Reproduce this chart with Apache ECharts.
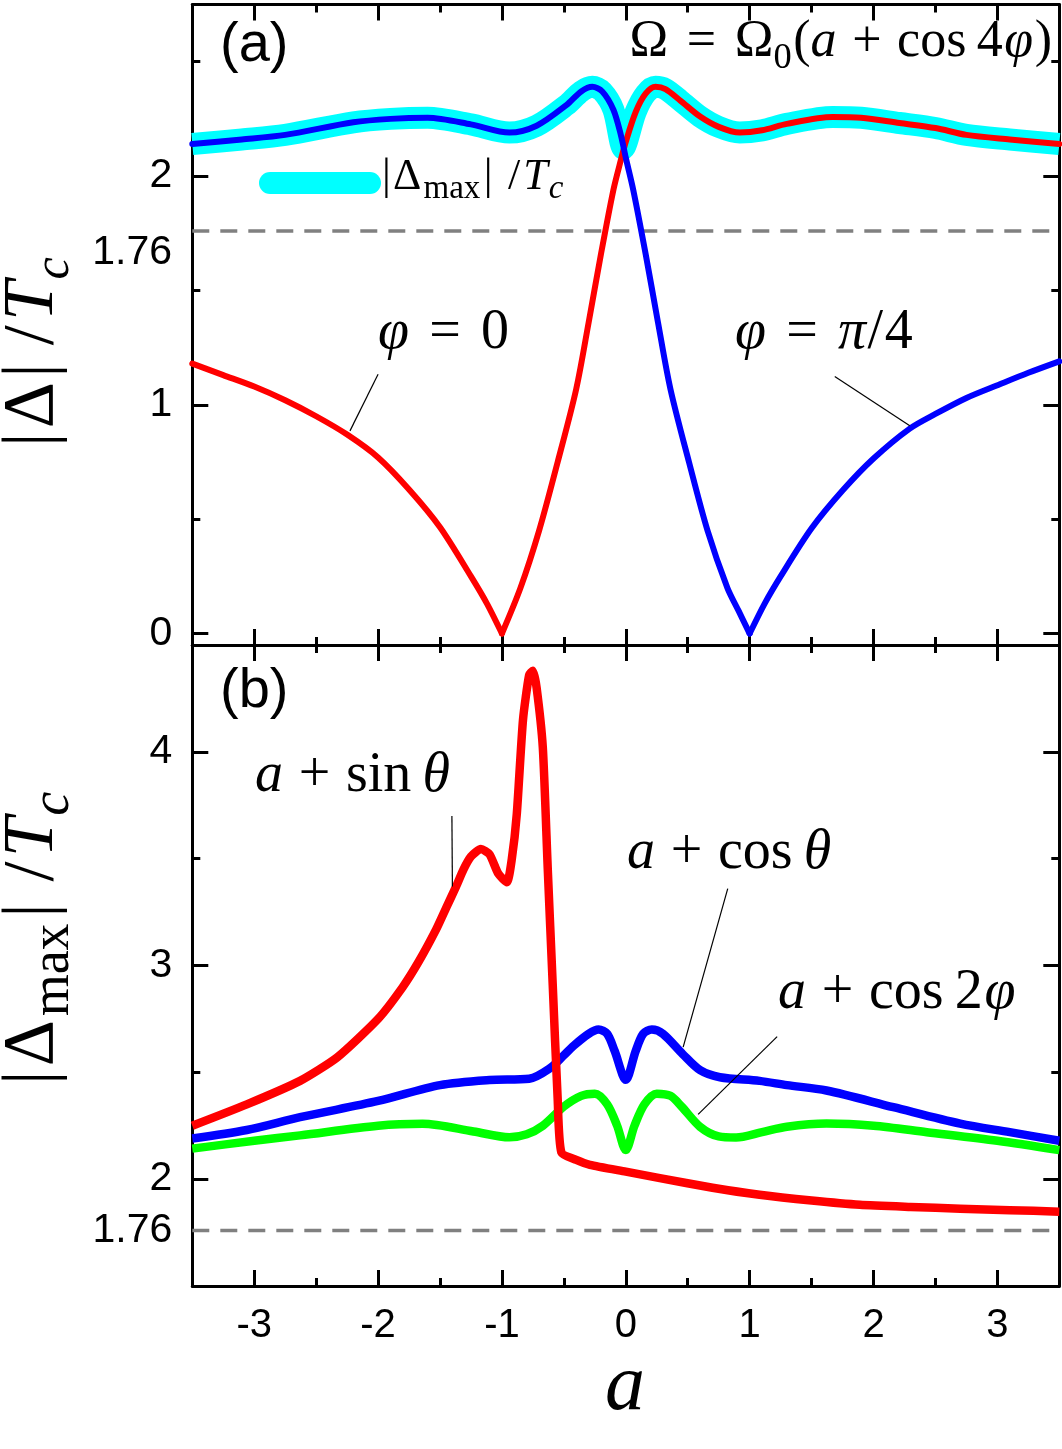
<!DOCTYPE html>
<html>
<head>
<meta charset="utf-8">
<script src="https://cdn.jsdelivr.net/npm/echarts@6/dist/echarts.min.js"></script>
<style>
html, body { margin: 0; padding: 0; background: #fff; }
#chart { width: 1062px; height: 1449px; }
</style>
</head>
<body>
<div id="chart"></div>
<script>
// x ticks (shared by both panels)
const xMajor = [-3, -2, -1, 0, 1, 2, 3];
const xMinor = [-2.5, -1.5, -0.5, 0.5, 1.5, 2.5];

// panel (a) y ticks
const yMajorA = [0, 1, 2];
const yMinorA = [0.5, 1.5, 2.5];
// panel (b) y ticks
const yMajorB = [2, 3, 4];
const yMinorB = [2.5, 3.5];
const yLabelsB = [1.76, 2, 3, 4];
const bcsLevel = 1.76;

// panel (a): |Delta|/Tc along phi = 0 (split at its zero so the cusp stays sharp)
const phiZeroLeft = [
  [-3.5, 1.18], [-3.25, 1.13], [-3.0, 1.08], [-2.75, 1.02], [-2.5, 0.95], [-2.25, 0.87],
  [-2.0, 0.77], [-1.75, 0.63], [-1.5, 0.465], [-1.25, 0.25], [-1.12, 0.13], [-1.0, 0.0]
];
const phiZeroRight = [
  [-1.0, 0.0], [-0.85, 0.2], [-0.7, 0.45], [-0.55, 0.75], [-0.4, 1.07], [-0.3, 1.36], [-0.2, 1.66],
  [-0.1, 1.94], [-0.04, 2.07], [0.0, 2.15], [0.08, 2.28], [0.16, 2.36], [0.24, 2.39],
  [0.32, 2.38], [0.44, 2.33], [0.6, 2.26], [0.75, 2.215], [0.92, 2.19], [1.1, 2.2],
  [1.3, 2.228], [1.67, 2.258], [1.9, 2.255], [2.21, 2.232], [2.5, 2.21], [2.75, 2.18],
  [3.1, 2.16], [3.5, 2.14]
];
// phi = pi/4
const phiQuarterLeft = [
  [-3.5, 2.14], [-3.1, 2.16], [-2.75, 2.18], [-2.2, 2.235], [-1.9, 2.25], [-1.6, 2.255],
  [-1.25, 2.226], [-0.94, 2.19], [-0.72, 2.22], [-0.48, 2.31], [-0.36, 2.37], [-0.27, 2.39],
  [-0.19, 2.37], [-0.1, 2.29], [-0.04, 2.18], [0.0, 2.08], [0.06, 1.94], [0.16, 1.66],
  [0.26, 1.36], [0.36, 1.07], [0.51, 0.75], [0.66, 0.45], [0.82, 0.2], [0.91, 0.1], [1.0, 0.0]
];
const phiQuarterRight = [
  [1.0, 0.0], [1.12, 0.13], [1.25, 0.25], [1.5, 0.46], [1.75, 0.625], [2.0, 0.765],
  [2.29, 0.895], [2.5, 0.96], [2.75, 1.03], [3.02, 1.09], [3.25, 1.14], [3.5, 1.19]
];
// envelope |Delta_max|/Tc
const envelopeA = [
  [-3.5, 2.14], [-3.1, 2.16], [-2.75, 2.18], [-2.2, 2.235], [-1.9, 2.25], [-1.6, 2.255],
  [-1.25, 2.226], [-0.94, 2.19], [-0.72, 2.22], [-0.48, 2.31], [-0.36, 2.37], [-0.27, 2.39],
  [-0.19, 2.37], [-0.1, 2.29], [-0.02, 2.12], [0.08, 2.28], [0.16, 2.36], [0.24, 2.39],
  [0.32, 2.38], [0.44, 2.33], [0.6, 2.26], [0.75, 2.215], [0.92, 2.19], [1.1, 2.2],
  [1.3, 2.228], [1.67, 2.258], [1.9, 2.255], [2.21, 2.232], [2.5, 2.21], [2.75, 2.18],
  [3.1, 2.16], [3.5, 2.14]
];

// panel (b): |Delta_max|/Tc for three anisotropies
const sinTheta = [
  [-3.5, 2.25], [-3.06, 2.35], [-2.63, 2.46], [-2.33, 2.57], [-2.0, 2.75], [-1.8, 2.9],
  [-1.67, 3.02], [-1.53, 3.17], [-1.45, 3.27], [-1.37, 3.37], [-1.31, 3.45], [-1.25, 3.51],
  [-1.17, 3.545], [-1.1, 3.52], [-1.03, 3.43], [-0.96, 3.39], [-0.92, 3.5], [-0.88, 3.71],
  [-0.83, 4.15], [-0.78, 4.36], [-0.75, 4.38], [-0.72, 4.3], [-0.67, 4.02], [-0.63, 3.45],
  [-0.59, 2.91], [-0.55, 2.375], [-0.52, 2.125], [-0.4, 2.09], [-0.29, 2.067], [0.0, 2.035],
  [0.275, 2.005], [0.7, 1.96], [1.08, 1.927], [1.5, 1.9], [1.89, 1.88], [2.3, 1.87],
  [2.7, 1.862], [3.1, 1.855], [3.5, 1.848]
];
const cosTheta = [
  [-3.5, 2.19], [-3.06, 2.23], [-2.63, 2.29], [-2.0, 2.366], [-1.5, 2.44], [-1.1, 2.464],
  [-0.78, 2.47], [-0.61, 2.52], [-0.5, 2.58], [-0.42, 2.625], [-0.3, 2.68], [-0.22, 2.7],
  [-0.15, 2.68], [-0.09, 2.6], [0.0, 2.465], [0.08, 2.6], [0.14, 2.68], [0.21, 2.7],
  [0.3, 2.68], [0.46, 2.585], [0.6, 2.51], [0.76, 2.477], [1.08, 2.46], [1.3, 2.44],
  [1.62, 2.415], [2.16, 2.337], [2.7, 2.26], [3.1, 2.22], [3.5, 2.18]
];
const cosTwoPhi = [
  [-3.5, 2.143], [-3.0, 2.18], [-2.63, 2.205], [-2.0, 2.25], [-1.64, 2.259], [-1.23, 2.223],
  [-0.94, 2.196], [-0.8, 2.21], [-0.67, 2.25], [-0.5, 2.34], [-0.36, 2.39], [-0.25, 2.4],
  [-0.15, 2.35], [-0.07, 2.25], [0.0, 2.136], [0.07, 2.25], [0.15, 2.35], [0.25, 2.4],
  [0.36, 2.39], [0.45, 2.34], [0.6, 2.245], [0.75, 2.2], [0.89, 2.195], [1.1, 2.22],
  [1.3, 2.245], [1.62, 2.26], [2.0, 2.25], [2.43, 2.22], [3.0, 2.18], [3.5, 2.136]
];

// leader lines from the curve labels, in data coordinates
const leaderPhiZero = [[-2.0, 1.134], [-2.227, 0.886]];
const leaderPhiQuarter = [[1.687, 1.124], [2.293, 0.909]];
const leaderSin = [[-1.404, 3.70], [-1.40, 3.37]];
const leaderCos = [[0.823, 3.36], [0.463, 2.618]];
const leaderCos2 = [[1.222, 2.667], [0.584, 2.303]];

const SANS = '"Liberation Sans", Arial, sans-serif';
const SERIF = '"Liberation Serif", "Times New Roman", serif';

const measureCtx = document.createElement('canvas').getContext('2d');

// lays out math-ish text token by token on a common baseline
// items: [text, style] or a number (gap in em); styles r, i, s (sub), si (italic sub), sans
function mathLabel(items, size, opt) {
  const subScale = opt.sub || 0.7;
  let x = 0;
  const kids = [];
  for (const it of items) {
    if (typeof it === 'number') { x += it * size; continue; }
    const [txt, st] = it;
    const sub = st === 's' || st === 'si';
    const italic = st === 'i' || st === 'si';
    const fam = st === 'sans' ? SANS : SERIF;
    const sz = sub ? size * subScale : size;
    measureCtx.font = (italic ? 'italic ' : '') + sz + 'px ' + fam;
    const m = measureCtx.measureText(txt);
    const asc = m.fontBoundingBoxAscent || sz * 0.891;
    const desc = m.fontBoundingBoxDescent || sz * 0.216;
    const mid = (asc - desc) / 2;
    const base = sub ? 0.2 * size : 0;
    kids.push({
      type: 'text', x: x, y: base - mid, silent: true,
      style: {
        text: txt, fontSize: sz, fontFamily: fam, fontStyle: italic ? 'italic' : 'normal',
        fill: '#000', align: 'left', verticalAlign: 'middle'
      }
    });
    x += m.width;
  }
  const shift = opt.align === 'right' ? -x : opt.align === 'center' ? -x / 2 : 0;
  kids.forEach((k) => { k.x += shift; });
  return { type: 'group', x: opt.x, y: opt.y, rotation: opt.rotation || 0, children: kids };
}

const tickStyle = { color: '#000', width: 3 };

function xAxes(gridIndex, withLabels) {
  const base = { type: 'value', gridIndex: gridIndex, min: -3.5, max: 3.5, splitLine: { show: false } };
  const line = { show: true, onZero: false, lineStyle: tickStyle };
  const noLine = { show: false, onZero: false };
  return [
    Object.assign({}, base, {
      position: 'bottom', axisLine: line,
      axisTick: { inside: true, length: 16, lineStyle: tickStyle, customValues: xMajor },
      axisLabel: withLabels
        ? { show: true, customValues: xMajor, margin: 20, fontSize: 40, fontFamily: SANS, color: '#000' }
        : { show: false }
    }),
    Object.assign({}, base, {
      position: 'bottom', axisLine: noLine,
      axisTick: { inside: true, length: 8, lineStyle: tickStyle, customValues: xMinor },
      axisLabel: { show: false }
    }),
    Object.assign({}, base, {
      position: 'top', axisLine: line,
      axisTick: { inside: true, length: 16, lineStyle: tickStyle, customValues: xMajor },
      axisLabel: { show: false }
    }),
    Object.assign({}, base, {
      position: 'top', axisLine: noLine,
      axisTick: { inside: true, length: 8, lineStyle: tickStyle, customValues: xMinor },
      axisLabel: { show: false }
    })
  ];
}

function yAxes(gridIndex, min, max, major, minor, labels) {
  const base = { type: 'value', gridIndex: gridIndex, min: min, max: max, splitLine: { show: false } };
  const line = { show: true, onZero: false, lineStyle: tickStyle };
  const noLine = { show: false, onZero: false };
  const out = [];
  for (const pos of ['left', 'right']) {
    out.push(Object.assign({}, base, {
      position: pos, axisLine: line,
      axisTick: { inside: true, length: 16, lineStyle: tickStyle, customValues: major },
      axisLabel: pos === 'left'
        ? { show: true, customValues: labels, margin: 20, fontSize: 41, fontFamily: SANS, color: '#000' }
        : { show: false }
    }));
    out.push(Object.assign({}, base, {
      position: pos, axisLine: noLine,
      axisTick: { inside: true, length: 8, lineStyle: tickStyle, customValues: minor },
      axisLabel: { show: false }
    }));
  }
  return out;
}

function curve(data, color, width, panel, smooth, cap, join) {
  return {
    type: 'line', data: data, xAxisIndex: panel * 4, yAxisIndex: panel * 4,
    symbol: 'none', showSymbol: false, smooth: smooth, silent: true,
    lineStyle: { color: color, width: width, join: join || 'round', cap: cap || 'butt' }
  };
}

function dashed(panel) {
  return {
    type: 'line', data: [[-3.5, bcsLevel], [3.5, bcsLevel]], xAxisIndex: panel * 4, yAxisIndex: panel * 4,
    symbol: 'none', silent: true,
    lineStyle: { color: '#808080', width: 3.5, type: [17, 11] }
  };
}

function leader(data, panel) {
  return {
    type: 'line', data: data, xAxisIndex: panel * 4, yAxisIndex: panel * 4,
    symbol: 'none', silent: true, lineStyle: { color: '#000', width: 1.2 }
  };
}

const LBL = 56;

const chart = echarts.init(document.getElementById('chart'), null, { renderer: 'canvas' });
chart.setOption({
  animation: false,
  backgroundColor: '#fff',
  grid: [
    { left: 192.3, right: 2.7, top: 4.5, height: 640.5 },
    { left: 192.3, right: 2.7, top: 645, height: 641 }
  ],
  xAxis: xAxes(0, false).concat(xAxes(1, true)),
  yAxis: yAxes(0, -0.05, 2.75, yMajorA, yMinorA, yMajorA)
    .concat(yAxes(1, 1.5, 4.5, yMajorB, yMinorB, yLabelsB)),
  series: [
    dashed(0),
    curve(envelopeA, '#00ffff', 22, 0, 0.3),
    curve(phiZeroLeft, '#ff0000', 6, 0, 0.3, 'round'),
    curve(phiZeroRight, '#ff0000', 6, 0, 0.3, 'round'),
    curve(phiQuarterLeft, '#0000ff', 6, 0, 0.3, 'round'),
    curve(phiQuarterRight, '#0000ff', 6, 0, 0.3, 'round'),
    leader(leaderPhiZero, 0),
    leader(leaderPhiQuarter, 0),
    dashed(1),
    curve(cosTheta, '#0000ff', 8.5, 1, 0.3),
    curve(cosTwoPhi, '#00ff00', 8.5, 1, 0.3),
    curve(sinTheta, '#ff0000', 8.5, 1, 0.2, 'butt', 'miter'),
    leader(leaderSin, 1),
    leader(leaderCos, 1),
    leader(leaderCos2, 1)
  ],
  graphic: { elements: [
    mathLabel([['(a)', 'sans']], 56, { x: 220, y: 65 }),
    mathLabel([['(b)', 'sans']], 56, { x: 220, y: 711 }),
    mathLabel([['1.76', 'sans']], 41, { x: 172, y: 267, align: 'right' }),
    mathLabel([['Ω', 'r'], 0.36, ['=', 'r'], 0.36, ['Ω', 'r'], ['0', 's'], 0.03, ['(', 'r'], ['a', 'i'], 0.3,
      ['+', 'r'], 0.3, ['cos', 'r'], 0.2, ['4', 'r'], 0.03, ['φ', 'i'], 0.03, [')', 'r']], 52,
      { x: 1052, y: 60, align: 'right' }),
    {
      type: 'line', silent: true,
      shape: { x1: 270, y1: 183, x2: 370, y2: 183 },
      style: { stroke: '#00ffff', lineWidth: 22, lineCap: 'round' }
    },
    mathLabel([['|', 'r'], 0.05, ['Δ', 'r'], 0.05, ['max', 's'], 0.08, ['|', 'r'], 0.35, ['/', 'r'], 0.07,
      ['T', 'i'], 0.02, ['c', 'si']], 44, { x: 382, y: 192, sub: 0.75 }),
    mathLabel([['φ', 'i'], 0.36, ['=', 'r'], 0.36, ['0', 'r']], LBL, { x: 378, y: 352 }),
    mathLabel([['φ', 'i'], 0.36, ['=', 'r'], 0.36, ['π', 'i'], 0.03, ['/', 'r'], 0.03, ['4', 'r']], LBL,
      { x: 735, y: 352 }),
    mathLabel([['a', 'i'], 0.28, ['+', 'r'], 0.28, ['sin', 'r'], 0.2, ['θ', 'i']], LBL, { x: 255, y: 795 }),
    mathLabel([['a', 'i'], 0.28, ['+', 'r'], 0.28, ['cos', 'r'], 0.2, ['θ', 'i']], LBL, { x: 627, y: 872 }),
    mathLabel([['a', 'i'], 0.28, ['+', 'r'], 0.28, ['cos', 'r'], 0.2, ['2', 'r'], 0.03, ['φ', 'i']], LBL,
      { x: 778, y: 1012 }),
    mathLabel([['|', 'r'], 0.06, ['Δ', 'r'], 0.06, ['|', 'r'], 0.25, ['/', 'r'], 0.06, ['T', 'i'], 0.02,
      ['c', 'si']], 72, { x: 57, y: 447, rotation: Math.PI / 2 }),
    mathLabel([['|', 'r'], 0.06, ['Δ', 'r'], 0.05, ['max', 's'], 0.08, ['|', 'r'], 0.3, ['/', 'r'], 0.06,
      ['T', 'i'], 0.02, ['c', 'si']], 72, { x: 57, y: 1085, rotation: Math.PI / 2, sub: 0.75 }),
    mathLabel([['a', 'i']], 80, { x: 625, y: 1415, align: 'center' })
  ] }
});
</script>
</body>
</html>
